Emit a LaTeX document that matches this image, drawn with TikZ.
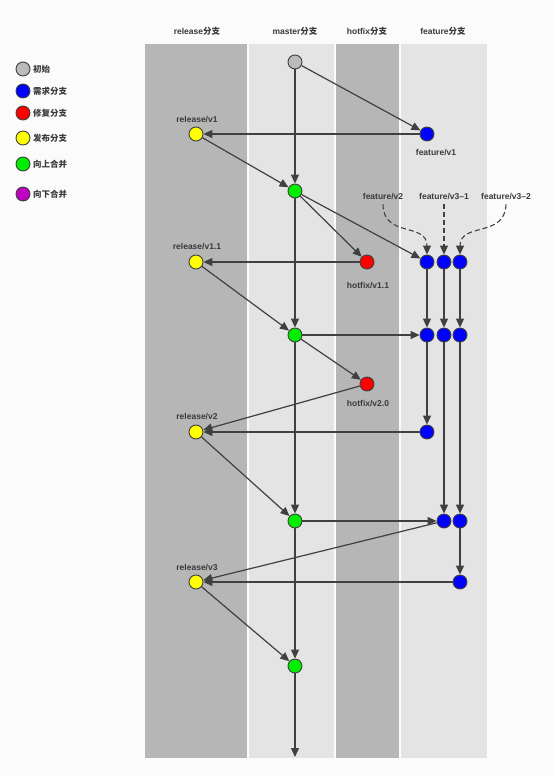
\documentclass[tikz,border=0pt]{standalone}
\usepackage{fontspec}
\setmainfont{Liberation Sans}
\newfontfamily\cjk{Noto Sans CJK SC}
\usetikzlibrary{arrows.meta}

\definecolor{bgpage}{HTML}{FBFBFB}
\definecolor{lanedark}{HTML}{B6B6B6}
\definecolor{lanelight}{HTML}{E4E4E4}
\definecolor{ink}{HTML}{404040}
\definecolor{txt}{HTML}{3A3A3A}
\definecolor{cinit}{HTML}{BBBBBB}
\definecolor{cfeat}{HTML}{0000FF}
\definecolor{cfix}{HTML}{FF0000}
\definecolor{crel}{HTML}{FFFF00}
\definecolor{cup}{HTML}{00EE00}
\definecolor{cdown}{HTML}{C000C0}

\tikzset{
  commit/.style={circle, draw=ink, line width=0.9pt, minimum size=14pt, inner sep=0pt},
  init/.style={commit, fill=cinit},
  feat/.style={commit, fill=cfeat},
  fix/.style={commit, fill=cfix},
  rel/.style={commit, fill=crel},
  up/.style={commit, fill=cup},
  down/.style={commit, fill=cdown},
  flow/.style={draw=ink, line width=1.2pt, -{Triangle[length=9pt,width=8pt]}},
  hint/.style={draw=ink, line width=1.1pt, dash pattern=on 5pt off 3pt, -{Triangle[length=9pt,width=8pt]}},
  lbl/.style={font=\fontsize{8.5}{10}\selectfont\bfseries, text=txt, inner sep=1pt},
}

\begin{document}
\begin{tikzpicture}[x=1pt,y=-1pt]
  % page
  \fill[bgpage] (0,0) rectangle (554,776);
  \useasboundingbox (0,0) rectangle (554,776);

  % swim lanes
  \fill[lanedark]  (145,44) rectangle (247,758);
  \fill[lanelight] (249,44) rectangle (334,758);
  \fill[lanedark]  (336,44) rectangle (399,758);
  \fill[lanelight] (401,44) rectangle (487,758);

  % lane headers
  \node[lbl] (hrel) at (197,31) {release{\cjk 分支}};
  \node[lbl] (hmas) at (295,31) {master{\cjk 分支}};
  \node[lbl] (hfix) at (367,31) {hotfix{\cjk 分支}};
  \node[lbl] (hfea) at (443,31) {feature{\cjk 分支}};

  % legend
  \node[init] (k1) at (23,69) {};
  \node[feat] (k2) at (23,91) {};
  \node[fix]  (k3) at (23,113) {};
  \node[rel]  (k4) at (23,138) {};
  \node[up]   (k5) at (23,164) {};
  \node[down] (k6) at (23,194) {};
  \node[lbl, anchor=west] (t1) at (32,69)  {\cjk 初始};
  \node[lbl, anchor=west] (t2) at (32,91)  {\cjk 需求分支};
  \node[lbl, anchor=west] (t3) at (32,113) {\cjk 修复分支};
  \node[lbl, anchor=west] (t4) at (32,138) {\cjk 发布分支};
  \node[lbl, anchor=west] (t5) at (32,164) {\cjk 向上合并};
  \node[lbl, anchor=west] (t6) at (32,194) {\cjk 向下合并};

  % commits
  \node[init] (m0) at (295,62) {};
  \node[up]   (m1) at (295,191) {};
  \node[up]   (m2) at (295,335) {};
  \node[up]   (m3) at (295,521) {};
  \node[up]   (m4) at (295,666) {};
  \coordinate (mend) at (295,757);

  \node[rel] (r1) at (196,134) {};
  \node[rel] (r2) at (196,262) {};
  \node[rel] (r3) at (196,432) {};
  \node[rel] (r4) at (196,582) {};

  \node[fix] (h1) at (367,262) {};
  \node[fix] (h2) at (367,384) {};

  \node[feat] (f1)  at (427,134) {};
  \node[feat] (fa1) at (427,262) {};
  \node[feat] (fb1) at (444,262) {};
  \node[feat] (fc1) at (460,262) {};
  \node[feat] (fa2) at (427,335) {};
  \node[feat] (fb2) at (444,335) {};
  \node[feat] (fc2) at (460,335) {};
  \node[feat] (fa3) at (427,432) {};
  \node[feat] (fb3) at (444,521) {};
  \node[feat] (fc3) at (460,521) {};
  \node[feat] (fc4) at (460,582) {};

  % commit labels
  \node[lbl] (lr1) at (197,120) {release/v1};
  \node[lbl] (lr2) at (197,247) {release/v1.1};
  \node[lbl] (lr3) at (197,417) {release/v2};
  \node[lbl] (lr4) at (197,567) {release/v3};
  \node[lbl] (lh1) at (368,286) {hotfix/v1.1};
  \node[lbl] (lh2) at (368,404) {hotfix/v2.0};
  \node[lbl] (lf1) at (436,153) {feature/v1};
  \node[lbl] (lfa) at (383,197) {feature/v2};
  \node[lbl] (lfb) at (444,197) {feature/v3--1};
  \node[lbl] (lfc) at (506,197) {feature/v3--2};

  % master trunk
  \draw[flow] (m0) -- (m1);
  \draw[flow] (m1) -- (m2);
  \draw[flow] (m2) -- (m3);
  \draw[flow] (m3) -- (m4);
  \draw[flow] (m4) -- (mend);

  % first feature and release
  \draw[flow] (m0) -- (f1);
  \draw[flow] (f1) -- (r1);
  \draw[flow] (r1) -- (m1);

  % second round
  \draw[flow] (m1) -- (h1);
  \draw[flow] (m1) -- (fa1);
  \draw[flow] (h1) -- (r2);
  \draw[flow] (r2) -- (m2);

  % feature branches started from labels
  \draw[hint] ([yshift=-3pt]lfa.south) .. controls (383,238) and (427,222) .. (fa1);
  \draw[hint] ([yshift=-3pt]lfb.south) -- (fb1);
  \draw[hint] ([yshift=-3pt]lfc.south) .. controls (505,238) and (460,222) .. (fc1);

  \draw[flow] (fa1) -- (fa2);
  \draw[flow] (fb1) -- (fb2);
  \draw[flow] (fc1) -- (fc2);
  \draw[flow] (m2) -- (fa2);

  % third round
  \draw[flow] (m2) -- (h2);
  \draw[flow] (h2) -- (r3);
  \draw[flow] (fa2) -- (fa3);
  \draw[flow] (fa3) -- (r3);
  \draw[flow] (r3) -- (m3);

  % fourth round
  \draw[flow] (fb2) -- (fb3);
  \draw[flow] (fc2) -- (fc3);
  \draw[flow] (m3) -- (fb3);
  \draw[flow] (fb3) -- (r4);
  \draw[flow] (fc3) -- (fc4);
  \draw[flow] (fc4) -- (r4);
  \draw[flow] (r4) -- (m4);
\end{tikzpicture}
\end{document}
